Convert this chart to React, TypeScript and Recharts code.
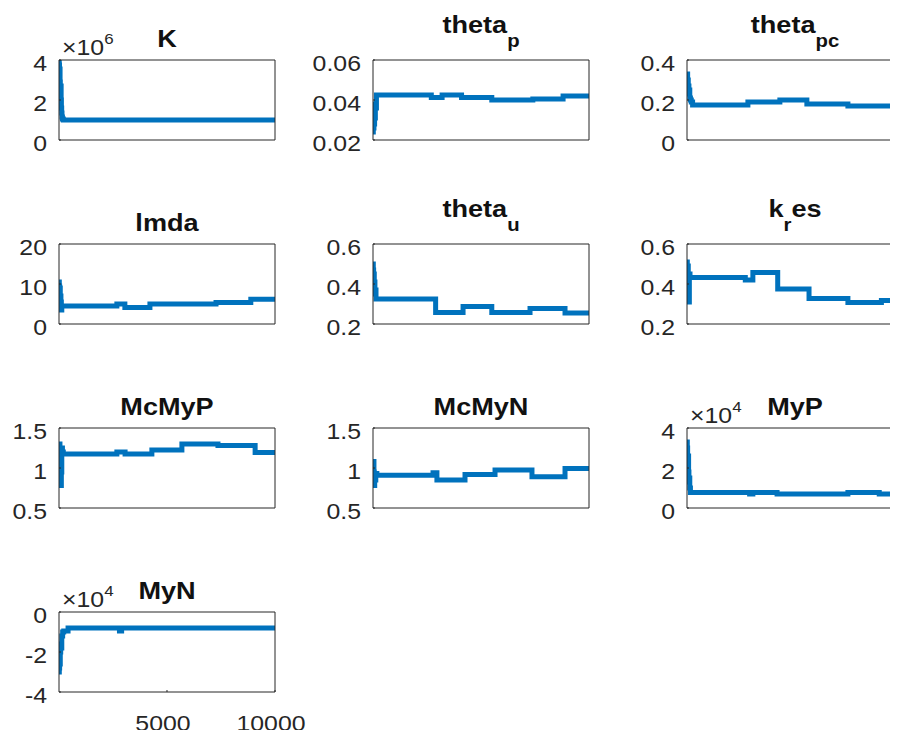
import React from "react";
import { LineChart, Line, XAxis, YAxis } from "recharts";

const BLUE = "#0072BD";
const AX = "#262626";
const FONT = '"Liberation Sans", Arial, Helvetica, sans-serif';
const SX = 1.13;

// ---- data (iteration, value) ----
const kIter = [1, 12, 25, 38, 50, 62, 75, 88, 100, 112, 125, 140, 160, 200, 10000];
const kVal = [4.0e6, 3.75e6, 3.3e6, 3.55e6, 2.9e6, 2.6e6, 2.3e6, 2.7e6, 2.0e6, 1.6e6, 1.35e6, 1.15e6, 1.05e6, 1.0e6, 1.0e6];

const thetaPIter = [1, 15, 30, 45, 60, 75, 90, 110, 130, 160, 2700, 3200, 4100, 5500, 7400, 8800, 10000];
const thetaPVal = [0.024, 0.029, 0.026, 0.032, 0.028, 0.035, 0.031, 0.038, 0.036, 0.0425, 0.0413, 0.0425, 0.0412, 0.040, 0.0405, 0.042, 0.042];

const thetaPcIter = [1, 15, 30, 45, 60, 75, 90, 110, 130, 160, 200, 260, 2820, 4300, 5550, 7450, 10000];
const thetaPcVal = [0.31, 0.33, 0.28, 0.3, 0.25, 0.27, 0.23, 0.25, 0.21, 0.2, 0.19, 0.175, 0.19, 0.2, 0.18, 0.17, 0.17];

const lmdaIter = [1, 15, 30, 45, 60, 75, 90, 110, 130, 2680, 3050, 4210, 7270, 8880, 10000];
const lmdaVal = [10.5, 9.5, 8.0, 9.0, 6.5, 7.0, 5.5, 3.5, 4.5, 5.0, 4.1, 5.0, 5.4, 6.2, 6.2];

const thetaUIter = [1, 15, 30, 45, 60, 75, 90, 110, 140, 2900, 4170, 5500, 7270, 8890, 10000];
const thetaUVal = [0.5, 0.47, 0.42, 0.45, 0.38, 0.41, 0.35, 0.37, 0.325, 0.258, 0.287, 0.258, 0.278, 0.255, 0.255];

const kResIter = [1, 15, 30, 45, 60, 75, 90, 110, 140, 2700, 3050, 4200, 5650, 7450, 9000, 10000];
const kResVal = [0.51, 0.47, 0.44, 0.49, 0.36, 0.42, 0.31, 0.45, 0.433, 0.42, 0.457, 0.375, 0.328, 0.307, 0.317, 0.317];

const mcMyPIter = [1, 15, 30, 45, 60, 75, 90, 110, 130, 160, 200, 2680, 3060, 4300, 5690, 7360, 9080, 10000];
const mcMyPVal = [1.27, 1.22, 1.3, 1.0, 1.15, 0.85, 0.78, 0.95, 1.25, 1.2, 1.175, 1.2, 1.175, 1.225, 1.3, 1.28, 1.195, 1.195];

const mcMyNIter = [1, 15, 30, 45, 60, 80, 100, 130, 180, 2780, 2960, 4260, 5650, 7360, 8890, 10000];
const mcMyNVal = [1.05, 0.88, 1.08, 0.95, 0.78, 0.92, 0.85, 0.93, 0.91, 0.94, 0.85, 0.92, 0.975, 0.89, 0.995, 0.995];

const myPIter = [1, 15, 30, 45, 60, 75, 90, 110, 130, 160, 2900, 3050, 4170, 7450, 8900, 10000];
const myPVal = [3.3e4, 3.0e4, 2.5e4, 2.2e4, 2.6e4, 1.8e4, 1.3e4, 1.5e4, 1.0e4, 0.78e4, 0.7e4, 0.78e4, 0.7e4, 0.77e4, 0.7e4, 0.7e4];

const myNIter = [1, 15, 30, 45, 60, 80, 100, 130, 170, 220, 420, 2800, 2900, 10000];
const myNVal = [-3.0e4, -2.8e4, -2.4e4, -2.6e4, -2.0e4, -1.6e4, -1.8e4, -1.2e4, -1.0e4, -0.95e4, -0.8e4, -0.95e4, -0.8e4, -0.8e4];

// ---- axes ----
const xTicks = [5000, 10000];
const xTickLabels = ["5000", "10000"];

const kTicks = [0, 2e6, 4e6];
const kTickLabels = ["0", "2", "4"];
const thetaPTicks = [0.02, 0.04, 0.06];
const thetaPTickLabels = ["0.02", "0.04", "0.06"];
const thetaPcTicks = [0, 0.2, 0.4];
const thetaPcTickLabels = ["0", "0.2", "0.4"];
const lmdaTicks = [0, 10, 20];
const lmdaTickLabels = ["0", "10", "20"];
const thetaUTicks = [0.2, 0.4, 0.6];
const thetaUTickLabels = ["0.2", "0.4", "0.6"];
const kResTicks = [0.2, 0.4, 0.6];
const kResTickLabels = ["0.2", "0.4", "0.6"];
const mcTicks = [0.5, 1, 1.5];
const mcTickLabels = ["0.5", "1", "1.5"];
const myPTicks = [0, 2e4, 4e4];
const myPTickLabels = ["0", "2", "4"];
const myNTicks = [-4e4, -2e4, 0];
const myNTickLabels = ["-4", "-2", "0"];

// ---- layout ----
const colLeft = [59, 373, 687];
const rowTop = [60, 244, 428, 612];
const BOX_W = 216;
const BOX_H = 80;

type Panel = {
  iter: number[];
  val: number[];
  ticks: number[];
  labels: string[];
  col: number;
  row: number;
  title: string;
  sub?: string;
  after?: string;
  exp?: string;
};

const panels: Panel[] = [
  { iter: kIter, val: kVal, ticks: kTicks, labels: kTickLabels, col: 0, row: 0, title: "K", exp: "6" },
  { iter: thetaPIter, val: thetaPVal, ticks: thetaPTicks, labels: thetaPTickLabels, col: 1, row: 0, title: "theta", sub: "p" },
  { iter: thetaPcIter, val: thetaPcVal, ticks: thetaPcTicks, labels: thetaPcTickLabels, col: 2, row: 0, title: "theta", sub: "pc" },
  { iter: lmdaIter, val: lmdaVal, ticks: lmdaTicks, labels: lmdaTickLabels, col: 0, row: 1, title: "lmda" },
  { iter: thetaUIter, val: thetaUVal, ticks: thetaUTicks, labels: thetaUTickLabels, col: 1, row: 1, title: "theta", sub: "u" },
  { iter: kResIter, val: kResVal, ticks: kResTicks, labels: kResTickLabels, col: 2, row: 1, title: "k", sub: "r", after: "es" },
  { iter: mcMyPIter, val: mcMyPVal, ticks: mcTicks, labels: mcTickLabels, col: 0, row: 2, title: "McMyP" },
  { iter: mcMyNIter, val: mcMyNVal, ticks: mcTicks, labels: mcTickLabels, col: 1, row: 2, title: "McMyN" },
  { iter: myPIter, val: myPVal, ticks: myPTicks, labels: myPTickLabels, col: 2, row: 2, title: "MyP", exp: "4" },
  { iter: myNIter, val: myNVal, ticks: myNTicks, labels: myNTickLabels, col: 0, row: 3, title: "MyN", exp: "4" },
];

function Subplot({ p, showX }: { p: Panel; showX: boolean }) {
  const data = p.iter.map((it, i) => ({ it, v: p.val[i] }));
  const domain: [number, number] = [p.ticks[0], p.ticks[p.ticks.length - 1]];
  const left = colLeft[p.col] - 60;
  const top = rowTop[p.row] - 10;

  const yTick = (props: any) => {
    const { x, y, payload } = props;
    const idx = p.ticks.findIndex((t) => Math.abs(t - payload.value) < 1e-9);
    return (
      <text
        transform={`translate(${x},${y + 4}) scale(${SX},1)`}
        textAnchor="end"
        dominantBaseline="central"
        fontSize={22}
        fontFamily={FONT}
        fill={AX}
      >
        {idx >= 0 ? p.labels[idx] : ""}
      </text>
    );
  };

  const xTick = (props: any) => {
    const { x, y, payload } = props;
    const idx = xTicks.indexOf(payload.value);
    return (
      <text
        transform={`translate(${x - 4},${y}) scale(${SX},1)`}
        textAnchor="middle"
        dominantBaseline="central"
        fontSize={22}
        fontFamily={FONT}
        fill={AX}
      >
        {idx >= 0 ? xTickLabels[idx] : ""}
      </text>
    );
  };

  return (
    <div style={{ position: "absolute", left, top }}>
      <LineChart
        width={60 + BOX_W + 40}
        height={10 + BOX_H + 50}
        data={data}
        margin={{ top: 9, right: 39, bottom: 0, left: 0 }}
      >
        <XAxis
          xAxisId="b"
          dataKey="it"
          type="number"
          domain={[1, 10000]}
          allowDataOverflow
          ticks={xTicks}
          interval={0}
          orientation="bottom"
          height={50}
          tickSize={-2}
          tickMargin={34}
          stroke={AX}
          tick={showX ? xTick : false}
        />
        <XAxis
          xAxisId="t"
          dataKey="it"
          type="number"
          domain={[1, 10000]}
          allowDataOverflow
          ticks={[5000]}
          interval={0}
          orientation="top"
          height={1}
          tickSize={-2}
          stroke={AX}
          tick={false}
        />
        <YAxis
          yAxisId="l"
          type="number"
          domain={domain}
          allowDataOverflow
          ticks={p.ticks}
          interval={0}
          width={60}
          tickSize={-2}
          tickMargin={14}
          stroke={AX}
          tick={yTick}
        />
        <YAxis
          yAxisId="r"
          orientation="right"
          type="number"
          domain={domain}
          allowDataOverflow
          ticks={p.ticks}
          interval={0}
          width={1}
          tickSize={-2}
          stroke={AX}
          tick={false}
        />
        <Line
          xAxisId="b"
          yAxisId="l"
          dataKey="v"
          type="stepAfter"
          stroke={BLUE}
          strokeWidth={5}
          dot={false}
          isAnimationActive={false}
        />
      </LineChart>
    </div>
  );
}

function Titles() {
  return (
    <svg width={898} height={738} style={{ position: "absolute", left: 0, top: 0, pointerEvents: "none" }}>
      {panels.map((p, i) => {
        const cx = colLeft[p.col] + BOX_W / 2;
        const bt = rowTop[p.row];
        const base = p.sub ? bt - 27 : bt - 13;
        return (
          <g key={i}>
            <text
              transform={`translate(${cx},${base}) scale(${SX},1)`}
              textAnchor="middle"
              fontWeight="bold"
              fontSize={24}
              fontFamily={FONT}
              fill="#111"
            >
              {p.title}
              {p.sub ? (
                <tspan fontSize={18} dy={14}>
                  {p.sub}
                </tspan>
              ) : null}
              {p.after ? (
                <tspan fontSize={24} dy={-14}>
                  {p.after}
                </tspan>
              ) : null}
            </text>
            {p.exp ? (
              <text
                transform={`translate(${colLeft[p.col] + 3},${bt - 5}) scale(${SX},1)`}
                fontSize={22}
                fontFamily={FONT}
                fill={AX}
              >
                {"\u00d710"}
                <tspan fontSize={15} dy={-11}>
                  {p.exp}
                </tspan>
              </text>
            ) : null}
          </g>
        );
      })}
    </svg>
  );
}

export default function App() {
  return (
    <div
      style={{
        position: "relative",
        width: 898,
        height: 738,
        overflow: "hidden",
        margin: -8,
        background: "#fff",
        fontFamily: FONT,
      }}
    >
      {panels.map((p, i) => (
        <Subplot key={i} p={p} showX={p.row === 3} />
      ))}
      <Titles />
    </div>
  );
}
